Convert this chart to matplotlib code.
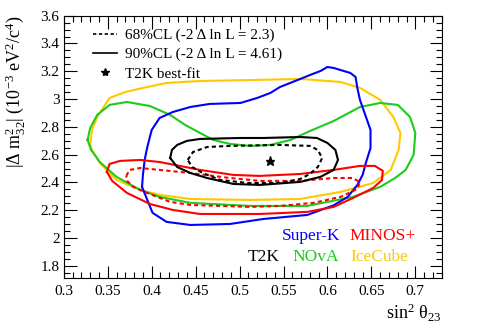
import matplotlib
matplotlib.use("Agg")
import matplotlib.pyplot as plt
from matplotlib.lines import Line2D
from matplotlib.ticker import MultipleLocator, FuncFormatter

plt.rcParams['font.family'] = ['Liberation Serif', 'DejaVu Serif']
plt.rcParams['mathtext.fontset'] = 'custom'
plt.rcParams['mathtext.rm'] = 'Liberation Serif'
plt.rcParams['mathtext.it'] = 'Liberation Serif:italic'

# IceCube 90% CL
ice_x = [0.330, 0.332, 0.338, 0.352, 0.370, 0.390, 0.417, 0.455, 0.512, 0.569, 0.615, 0.637, 0.660, 0.675, 0.683,
         0.681, 0.672, 0.652, 0.615, 0.569, 0.512, 0.444, 0.409, 0.387, 0.360, 0.341, 0.332, 0.330]
ice_y = [2.670, 2.778, 2.871, 3.008, 3.051, 3.080, 3.116, 3.130, 3.137, 3.145, 3.123, 3.080, 2.994, 2.871, 2.756,
         2.634, 2.490, 2.396, 2.332, 2.281, 2.274, 2.281, 2.310, 2.346, 2.418, 2.540, 2.634, 2.670]

# NOvA 90% CL
nova_x = [0.327, 0.330, 0.338, 0.352, 0.372, 0.398, 0.421, 0.438, 0.455, 0.470, 0.489, 0.512, 0.535, 0.558, 0.580,
          0.607, 0.637, 0.660, 0.680, 0.694, 0.700, 0.698, 0.689, 0.677, 0.660, 0.629, 0.577, 0.512, 0.444, 0.409,
          0.387, 0.360, 0.341, 0.331, 0.327]
nova_y = [2.706, 2.792, 2.886, 2.958, 2.979, 2.950, 2.886, 2.814, 2.756, 2.706, 2.677, 2.663, 2.670, 2.706, 2.770,
          2.842, 2.943, 2.972, 2.958, 2.871, 2.756, 2.598, 2.490, 2.432, 2.368, 2.296, 2.231, 2.231, 2.253, 2.296,
          2.346, 2.440, 2.547, 2.634, 2.706]

# Super-K 90% CL
sk_x = [0.389, 0.390, 0.392, 0.395, 0.400, 0.409, 0.424, 0.444, 0.466, 0.501, 0.520, 0.535, 0.546, 0.566, 0.580,
        0.592, 0.600, 0.607, 0.626, 0.632, 0.634, 0.637, 0.643, 0.649, 0.649, 0.644, 0.640, 0.634, 0.623, 0.607,
        0.577, 0.527, 0.489, 0.444, 0.417, 0.401, 0.395, 0.389]
sk_y = [2.368, 2.454, 2.562, 2.655, 2.778, 2.864, 2.907, 2.943, 2.965, 2.972, 3.008, 3.044, 3.087, 3.137, 3.173,
        3.202, 3.231, 3.224, 3.188, 3.159, 3.080, 2.994, 2.886, 2.778, 2.648, 2.547, 2.454, 2.382, 2.296, 2.235,
        2.166, 2.137, 2.101, 2.094, 2.116, 2.181, 2.274, 2.368]

# MINOS+ 90% CL
minos90_x = [0.349, 0.352, 0.364, 0.387, 0.409, 0.432, 0.455, 0.493, 0.523, 0.569, 0.607, 0.637, 0.654, 0.663,
             0.662, 0.652, 0.629, 0.607, 0.577, 0.523, 0.455, 0.424, 0.398, 0.372, 0.355, 0.349]
minos90_y = [2.475, 2.533, 2.555, 2.562, 2.547, 2.519, 2.490, 2.454, 2.447, 2.461, 2.490, 2.519, 2.519, 2.483,
             2.418, 2.360, 2.288, 2.224, 2.188, 2.173, 2.173, 2.202, 2.245, 2.324, 2.411, 2.475]

# MINOS+ 68% CL
minos68_x = [0.371, 0.375, 0.387, 0.409, 0.444, 0.489, 0.523, 0.569, 0.607, 0.628, 0.637, 0.634, 0.615, 0.584,
             0.546, 0.512, 0.444, 0.421, 0.395, 0.379, 0.372, 0.371]
minos68_y = [2.447, 2.490, 2.504, 2.490, 2.468, 2.432, 2.411, 2.411, 2.432, 2.432, 2.404, 2.353, 2.296, 2.253,
             2.231, 2.224, 2.238, 2.260, 2.324, 2.368, 2.411, 2.447]

# T2K 90% CL
t2k90_x = [0.421, 0.423, 0.429, 0.440, 0.455, 0.501, 0.527, 0.569, 0.588, 0.600, 0.609, 0.612, 0.607, 0.592,
           0.569, 0.523, 0.493, 0.463, 0.444, 0.429, 0.421]
t2k90_y = [2.576, 2.634, 2.670, 2.699, 2.713, 2.720, 2.720, 2.727, 2.720, 2.684, 2.634, 2.562, 2.490, 2.440,
           2.404, 2.382, 2.389, 2.432, 2.468, 2.511, 2.576]

# T2K 68% CL
t2k68_x = [0.441, 0.447, 0.463, 0.489, 0.546, 0.580, 0.589, 0.594, 0.589, 0.580, 0.569, 0.546, 0.509, 0.478,
           0.458, 0.446, 0.441]
t2k68_y = [2.562, 2.619, 2.655, 2.663, 2.670, 2.663, 2.634, 2.576, 2.511, 2.461, 2.425, 2.396, 2.396, 2.418,
           2.468, 2.511, 2.562]

# T2K best fit
bf_x = [0.535]
bf_y = [2.555]

c_blue = '#0000ff'
c_red = '#ff0000'
c_green = '#1ccc1c'
c_yellow = '#ffc800'

fig = plt.figure(figsize=(4.91, 3.32), dpi=100)
ax = fig.add_axes([0.130, 0.1617, 0.7696, 0.791])

lw = 1.5
ax.plot(ice_x, ice_y, color=c_yellow, lw=lw)
ax.plot(nova_x, nova_y, color=c_green, lw=lw)
ax.plot(sk_x, sk_y, color=c_blue, lw=lw)
ax.plot(minos90_x, minos90_y, color=c_red, lw=lw)
ax.plot(minos68_x, minos68_y, color=c_red, lw=lw, ls=(0, (2, 1.5)))
ax.plot(t2k90_x, t2k90_y, color='black', lw=lw)
ax.plot(t2k68_x, t2k68_y, color='black', lw=lw, ls=(0, (2, 1.5)))
ax.plot(bf_x, bf_y, marker='*', color='black', ms=6.5, ls='none')

ax.set_xlim(0.3, 0.73)
ax.set_ylim(1.71, 3.6)
ax.xaxis.set_major_locator(MultipleLocator(0.05))
ax.xaxis.set_minor_locator(MultipleLocator(0.01))
ax.yaxis.set_major_locator(MultipleLocator(0.2))
ax.yaxis.set_minor_locator(MultipleLocator(0.05))
ax.tick_params(which='both', direction='in', top=True, right=True, labelsize=11)
ax.tick_params(axis='y', which='major', pad=3)
ax.tick_params(axis='x', which='major', pad=5)
ax.tick_params(which='major', length=9, width=0.8)
ax.tick_params(which='minor', length=4.5, width=0.8)


def fmt(v, pos):
    return ('%.2f' % v).rstrip('0').rstrip('.')


ax.xaxis.set_major_formatter(FuncFormatter(fmt))
ax.yaxis.set_major_formatter(FuncFormatter(fmt))

ax.set_xlabel('sin$^{2}$ θ$_{23}$', fontsize=13, loc='right')
ax.set_ylabel('|Δ m$^{2}_{32}$| (10$^{-3}$ eV$^{2}$/c$^{4}$)', fontsize=13, loc='top')
ax.xaxis.set_label_coords(1.0, -0.09)
ax.yaxis.set_label_coords(-0.098, 1.0)

handles = [Line2D([], [], color='black', lw=1.2, ls=(0, (2, 1.5))),
           Line2D([], [], color='black', lw=1.2),
           Line2D([], [], color='black', marker='*', ls='none', ms=6)]
labels = ['68%CL (-2 Δ ln L = 2.3)', '90%CL (-2 Δ ln L = 4.61)', 'T2K best-fit']
ax.legend(handles, labels, loc='upper left', bbox_to_anchor=(0.06, 0.975), frameon=False,
          fontsize=11, handlelength=1.6, handletextpad=0.5, labelspacing=0.35, borderaxespad=0)

tfs = 12.5
ax.text(0.577, 0.161, 'Super-K', color=c_blue, fontsize=tfs, transform=ax.transAxes, va='center')
ax.text(0.757, 0.161, 'MINOS+', color=c_red, fontsize=tfs, transform=ax.transAxes, va='center')
ax.text(0.487, 0.081, 'T2K', color='black', fontsize=tfs, transform=ax.transAxes, va='center')
ax.text(0.606, 0.081, 'NOvA', color=c_green, fontsize=tfs, transform=ax.transAxes, va='center')
ax.text(0.757, 0.081, 'IceCube', color=c_yellow, fontsize=tfs, transform=ax.transAxes, va='center')

fig.savefig('out.png', dpi=100)
